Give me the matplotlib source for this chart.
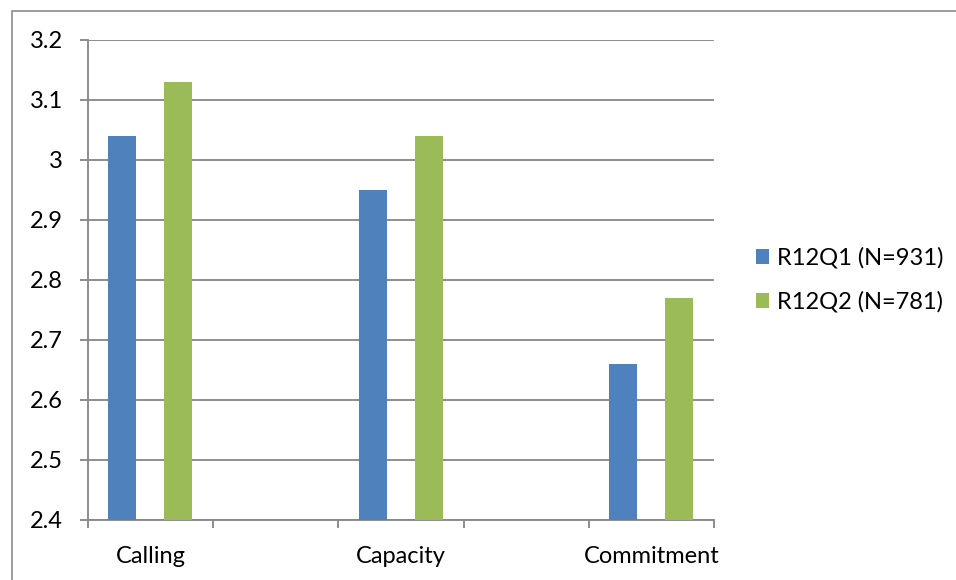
import numpy as np
import matplotlib
matplotlib.use("Agg")
import matplotlib.pyplot as plt
from matplotlib.patches import Rectangle

# category slots as in the original workbook (two empty spacer columns)
categories = ["Calling", "", "Capacity", "", "Commitment"]
r12q1 = [3.04, np.nan, 2.95, np.nan, 2.66]
r12q2 = [3.13, np.nan, 3.04, np.nan, 2.77]
series_names = ["R12Q1 (N=931)", "R12Q2 (N=781)"]
y_ticks = [2.4, 2.5, 2.6, 2.7, 2.8, 2.9, 3.0, 3.1, 3.2]
y_labels = ["2.4", "2.5", "2.6", "2.7", "2.8", "2.9", "3", "3.1", "3.2"]

BLUE = "#4F81BD"
GREEN = "#9BBB59"
GRID = "#868686"
FS = 17

plt.rcParams["font.family"] = ["Lato", "DejaVu Sans"]

fig = plt.figure(figsize=(9.56, 5.8), dpi=100)
ax = fig.add_axes([88 / 956, 60 / 580, 626 / 956, 480 / 580])

# chart-area border (right/bottom edges fall outside the image)
fig.patches.append(Rectangle((12 / 956, -0.1), 1.2, 1 - 11 / 580 + 0.1,
                             transform=fig.transFigure, fill=False,
                             edgecolor="#8C8C8C", linewidth=1.2))

x = np.arange(len(categories))
w = 0.224
ax.bar(x - 0.226, r12q1, width=w, color=BLUE, label=series_names[0], zorder=3)
ax.bar(x + 0.222, r12q2, width=w, color=GREEN, label=series_names[1], zorder=3)

ax.set_xlim(-0.5, len(categories) - 0.5)
ax.set_ylim(2.4, 3.2)
ax.set_yticks(y_ticks)
ax.set_yticklabels(y_labels)
ax.yaxis.grid(True, color=GRID, linewidth=1.3, zorder=0)

# category boundaries as tick marks, names centered between
ax.set_xticks(np.arange(len(categories) + 1) - 0.5)
ax.set_xticklabels([])
ax.set_xticks(x, minor=True)
ax.set_xticklabels(categories, minor=True)
ax.tick_params(axis="x", which="major", length=6, width=1.3, color=GRID)
ax.tick_params(axis="x", which="minor", length=0, pad=19, labelsize=FS)
ax.tick_params(axis="y", length=6, width=1.3, color=GRID, pad=12, labelsize=FS)

for side in ["top", "right"]:
    ax.spines[side].set_visible(False)
for side in ["left", "bottom"]:
    ax.spines[side].set_color(GRID)
    ax.spines[side].set_linewidth(1.3)

ax.legend(loc="center left", bbox_to_anchor=(756 / 956, 300 / 580),
          bbox_transform=fig.transFigure, frameon=False, fontsize=FS,
          handlelength=0.55, handleheight=0.55, handletextpad=0.35,
          labelspacing=0.95, borderaxespad=0, borderpad=0)

fig.savefig("out.png", dpi=100)
